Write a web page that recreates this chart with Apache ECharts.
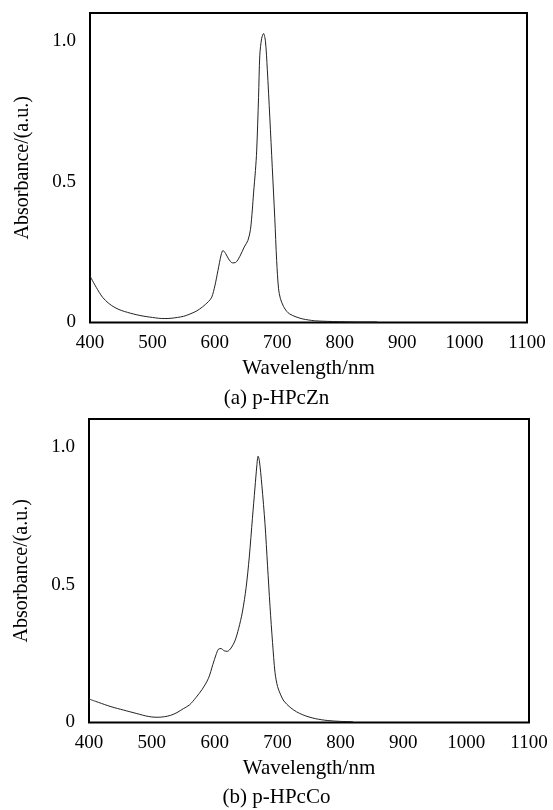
<!DOCTYPE html>
<html>
<head>
<meta charset="utf-8">
<script src="https://cdn.jsdelivr.net/npm/echarts@6/dist/echarts.min.js"></script>
<style>
html,body{margin:0;padding:0;background:#fff;}
#chart{width:553px;height:810px;}
</style>
</head>
<body>
<div id="chart"></div>
<script>
// Panel (a) p-HPcZn
const wavelengthZn = [400,410,420,430,440,450,460,470,480,490,500,510,520,530,540,550,560,570,580,590,595,600,605,610,613,617,622,628,633,640,647,653,657,660,662,665,667,670,672,675,678,681,684,688,692,696,699,702,705,710,715,720,730,740,750,760,780,800,830,860];
const absorbanceZn = [0.165,0.125,0.090,0.068,0.053,0.043,0.036,0.030,0.025,0.021,0.018,0.015,0.014,0.015,0.018,0.022,0.030,0.040,0.055,0.075,0.090,0.130,0.185,0.240,0.256,0.246,0.226,0.212,0.213,0.235,0.268,0.292,0.330,0.400,0.460,0.540,0.610,0.800,0.950,1.010,1.027,1.000,0.900,0.730,0.550,0.370,0.220,0.120,0.085,0.057,0.040,0.030,0.020,0.013,0.009,0.006,0.004,0.003,0.002,0.002];
// Panel (b) p-HPcCo
const wavelengthCo = [400,410,420,430,440,450,460,470,480,490,500,510,520,530,540,550,560,570,580,590,597,602,606,610,615,620,626,632,638,644,650,655,660,664,667,669,671,675,680,684,688,692,696,700,705,710,720,730,740,750,760,770,780,800,820];
const absorbanceCo = [0.085,0.077,0.069,0.061,0.054,0.048,0.042,0.036,0.030,0.024,0.020,0.019,0.021,0.026,0.036,0.050,0.064,0.090,0.120,0.160,0.210,0.245,0.266,0.268,0.260,0.258,0.270,0.295,0.340,0.400,0.490,0.600,0.740,0.850,0.930,0.965,0.950,0.860,0.720,0.570,0.420,0.290,0.180,0.130,0.100,0.078,0.055,0.039,0.028,0.020,0.014,0.010,0.007,0.004,0.003];
const captions = ['(a) p-HPcZn', '(b) p-HPcCo'];
const xName = 'Wavelength/nm';
const yName = 'Absorbance/(a.u.)';

const FONT = '"Liberation Serif", "Times New Roman", serif';
const chart = echarts.init(document.getElementById('chart'));

function xAxis(gi){
  return {
    gridIndex: gi, type: 'value', min: 400, max: 1100, interval: 100,
    name: xName, nameLocation: 'middle', nameGap: 35,
    nameTextStyle: {fontFamily: FONT, fontSize: 21, color: '#000'},
    axisLine: {show: false}, axisTick: {show: false}, splitLine: {show: false},
    axisLabel: {fontFamily: FONT, fontSize: 19, color: '#000', margin: 11,
      formatter: v => String(v)}
  };
}
function yAxis(gi){
  return {
    gridIndex: gi, type: 'value', min: 0, max: 1.1, interval: 0.5,
    name: yName, nameLocation: 'middle', nameGap: 57,
    nameTextStyle: {fontFamily: FONT, fontSize: 20, color: '#000'},
    axisLine: {show: false}, axisTick: {show: false}, splitLine: {show: false},
    axisLabel: {fontFamily: FONT, fontSize: 19, color: '#000', margin: 14, showMaxLabel: false,
      formatter: v => v === 0 ? '0' : v.toFixed(1)}
  };
}

chart.setOption({
  animation: false,
  backgroundColor: '#fff',
  title: [
    {text: captions[0], left: 'center', top: 388, textStyle: {fontFamily: FONT, fontSize: 21, fontWeight: 'normal', color: '#000'}, padding: 0},
    {text: captions[1], left: 'center', top: 787, textStyle: {fontFamily: FONT, fontSize: 21, fontWeight: 'normal', color: '#000'}, padding: 0}
  ],
  grid: [
    {left: 90, top: 13, width: 437, height: 309.5, show: true, borderColor: '#000', borderWidth: 2, backgroundColor: 'transparent'},
    {left: 89, top: 419, width: 440, height: 303.5, show: true, borderColor: '#000', borderWidth: 2, backgroundColor: 'transparent'}
  ],
  xAxis: [xAxis(0), xAxis(1)],
  yAxis: [yAxis(0), yAxis(1)],
  series: [
    {type: 'line', xAxisIndex: 0, yAxisIndex: 0, data: wavelengthZn.map((w,i)=>[w, absorbanceZn[i]]),
     showSymbol: false, smooth: 0.3, lineStyle: {color: '#222', width: 1}},
    {type: 'line', xAxisIndex: 1, yAxisIndex: 1, data: wavelengthCo.map((w,i)=>[w, absorbanceCo[i]]),
     showSymbol: false, smooth: 0.3, lineStyle: {color: '#222', width: 1}}
  ]
});
</script>
</body>
</html>
